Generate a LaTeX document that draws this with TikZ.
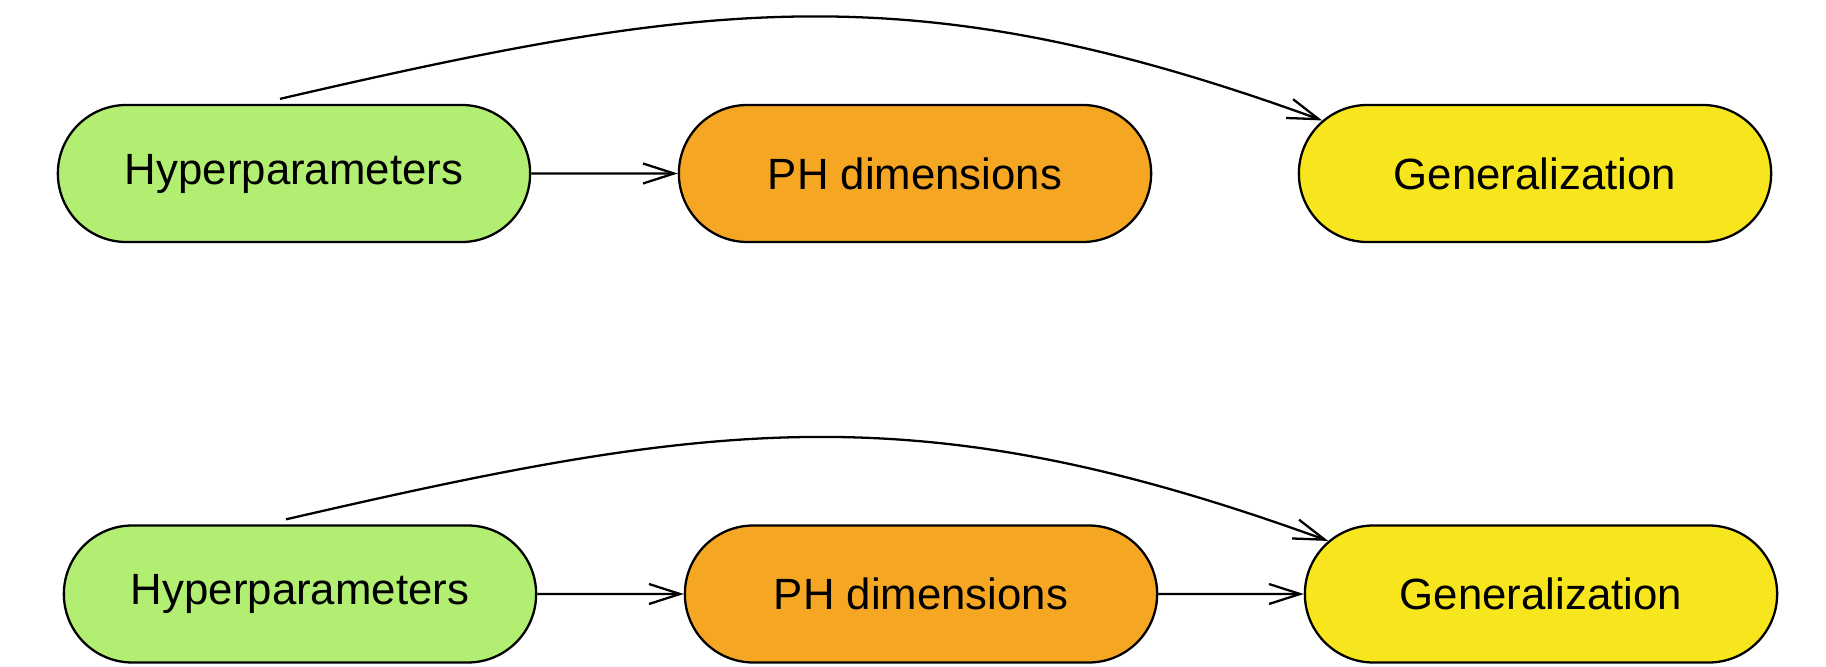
\documentclass[tikz,border=0pt]{standalone}
\usepackage{fontspec}
\setmainfont{Liberation Sans}
\usepackage{xcolor}
\usepackage{tikz}
\usetikzlibrary{shapes.misc,arrows.meta}
\definecolor{hpgreen}{RGB}{177,238,114}
\definecolor{phorange}{RGB}{245,166,35}
\definecolor{genyellow}{RGB}{247,229,29}

\begin{document}
\begin{tikzpicture}[
		pill/.style={rounded rectangle, draw, line width=1.3pt, minimum width=9.68cm, minimum height=2.74cm, font=\fontsize{24.9}{30}\selectfont},
		link/.style={line width=1.3pt, -{Straight Barb[length=0.62cm,width=0.4cm]}}]
							\useasboundingbox (0,0) rectangle (36.52,13.34);
							
							% top row
							\node[pill, fill=hpgreen] (hyp1) at (5.88,9.87) {Hyperparameters};
							\node[pill, fill=phorange] (ph1) at (18.3,9.87) {PH dimensions};
							\node[pill, fill=genyellow] (gen1) at (30.7,9.87) {Generalization};
							
							\draw[link] (hyp1) - - (ph1);
							\draw[link] ([xshift=-0.28cm,yshift=0.1cm]hyp1.north) .. controls +(8.53,1.97) and +(-8.22,2.99) .. (gen1.166);
							
							% bottom row
							\node[pill, fill=hpgreen] (hyp2) at (6.0,1.46) {Hyperparameters};
							\node[pill, fill=phorange] (ph2) at (18.42,1.46) {PH dimensions};
							\node[pill, fill=genyellow] (gen2) at (30.82,1.46) {Generalization};
							
							\draw[link] (hyp2) - - (ph2);
							\draw[link] (ph2) - - (gen2);
							\draw[link] ([xshift=-0.28cm,yshift=0.1cm]hyp2.north) .. controls +(8.53,1.97) and +(-8.22,2.99) .. (gen2.166);
						\end{tikzpicture}
\end{document}
